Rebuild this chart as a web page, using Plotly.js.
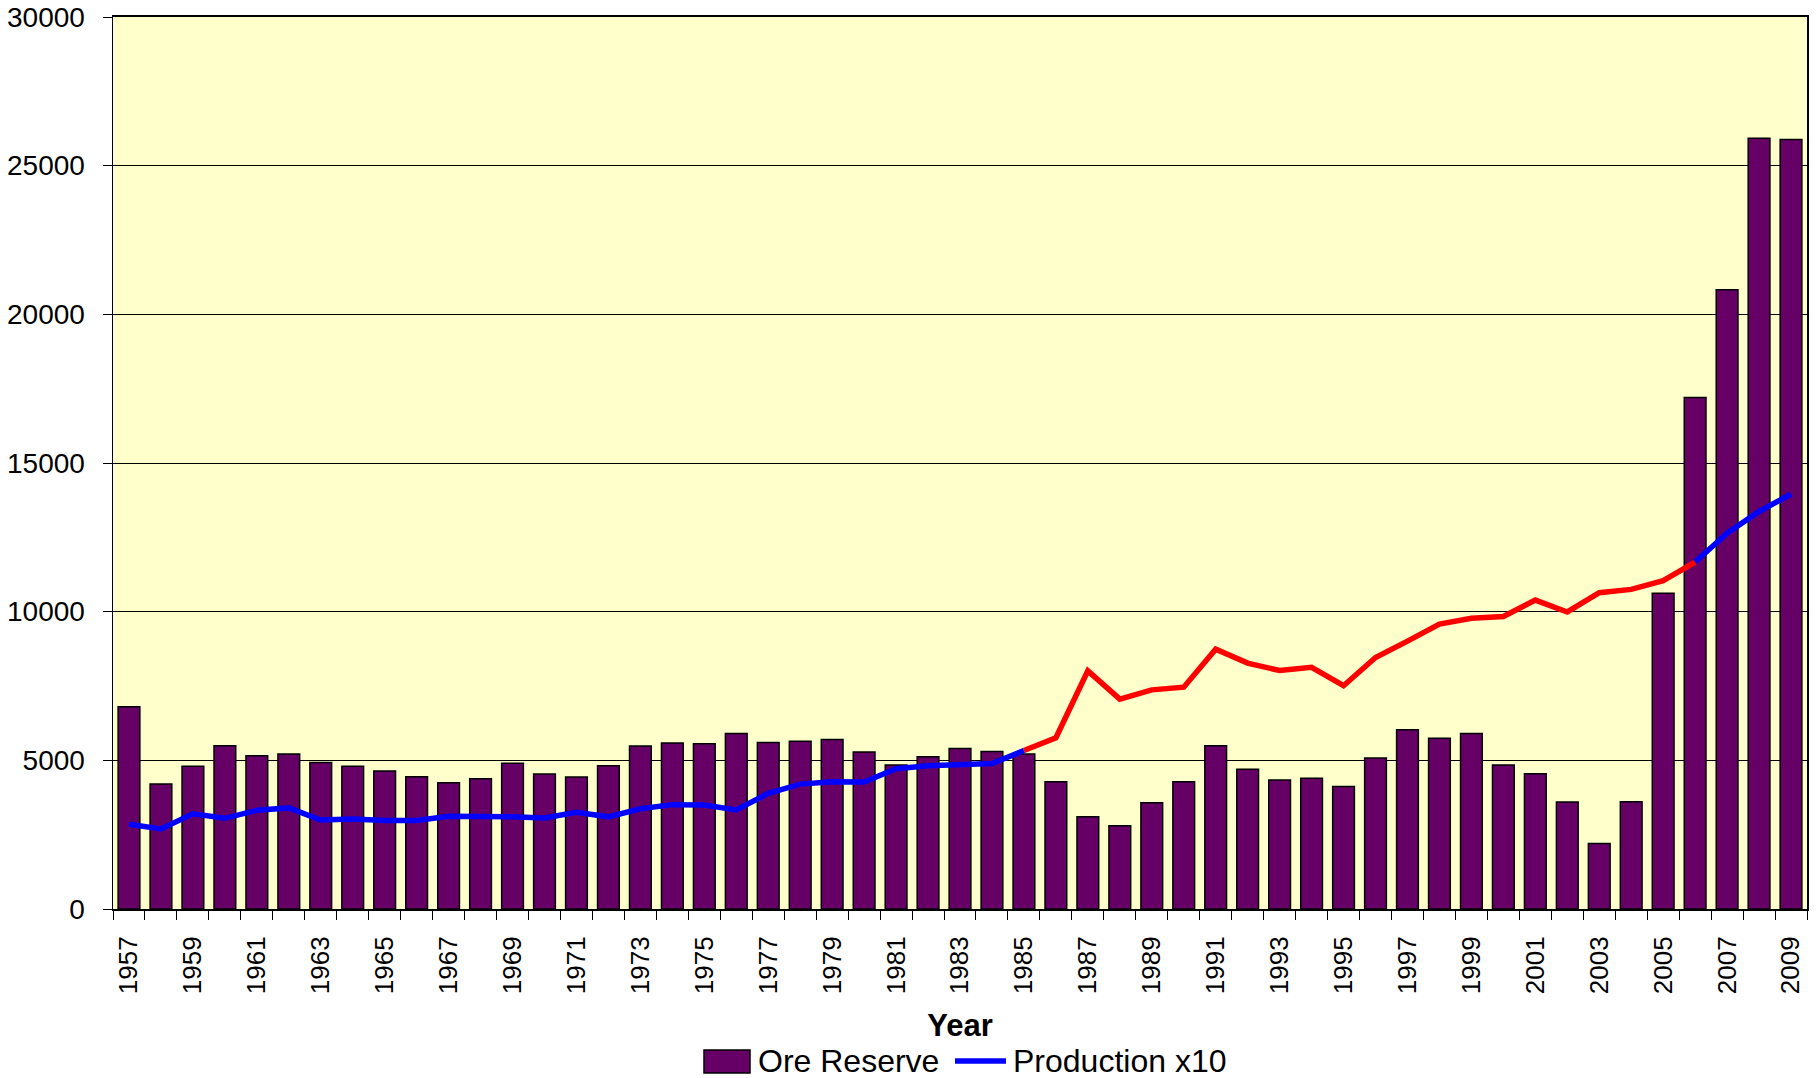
<!DOCTYPE html>
<html>
<head>
<meta charset="utf-8">
<script src="https://cdn.plot.ly/plotly-3.0.1.min.js"></script>
<style>
html,body{margin:0;padding:0;background:#ffffff;}
#chart{width:1818px;height:1078px;}
</style>
</head>
<body>
<div id="chart"></div>
<script>
// ---- data ----
const years = [1957,1958,1959,1960,1961,1962,1963,1964,1965,1966,1967,1968,1969,1970,
  1971,1972,1973,1974,1975,1976,1977,1978,1979,1980,1981,1982,1983,1984,1985,1986,
  1987,1988,1989,1990,1991,1992,1993,1994,1995,1996,1997,1998,1999,2000,2001,2002,
  2003,2004,2005,2006,2007,2008,2009];

const oreReserve = [6800,4200,4800,5490,5150,5210,4930,4800,4640,4450,4250,4380,4900,4540,
  4440,4820,5480,5580,5560,5900,5600,5640,5700,5280,4840,5120,5400,5300,5210,4280,
  3100,2800,3570,4280,5490,4700,4340,4400,4120,5080,6030,5740,5900,4840,4550,3600,
  2200,3610,10620,17200,20830,25920,25880];

const productionX10 = [2850,2690,3200,3050,3320,3400,2990,3030,2980,2980,3120,3130,3100,3060,
  3250,3100,3370,3510,3500,3330,3890,4200,4280,4270,4720,4820,4870,4890,5330,5760,
  8010,7060,7370,7460,8740,8270,8020,8130,7510,8460,9010,9580,9780,9840,10390,9990,
  10640,10750,11040,11670,12640,13370,13950];

// years over which the production line is drawn in red
const redSegment = [1985, 2006];

const xTickYears = years.filter(y => y % 2 === 1);
const yTicks = [0,5000,10000,15000,20000,25000,30000];

const seriesNames = ["Ore Reserve", "Production x10"];

// ---- build traces ----
const blueY = productionX10.map((v,i) => (years[i] <= redSegment[0] || years[i] >= redSegment[1]) ? v : null);
const redX = [], redY = [];
years.forEach((y,i) => { if (y >= redSegment[0] && y <= redSegment[1]) { redX.push(y); redY.push(productionX10[i]); } });

const FONT = '"Liberation Sans", Arial, Helvetica, sans-serif';

const traces = [
  {
    type: 'bar', x: years, y: oreReserve, name: seriesNames[0],
    marker: {color: '#660066', line: {color: '#000000', width: 1.5}},
    showlegend: false, hoverinfo: 'x+y'
  },
  {
    type: 'scatter', mode: 'lines', x: redX, y: redY, name: seriesNames[1] + ' (est.)',
    line: {color: '#ff0000', width: 5.5}, showlegend: false
  },
  {
    type: 'scatter', mode: 'lines', x: years, y: blueY, name: seriesNames[1],
    line: {color: '#0000ff', width: 5.5}, connectgaps: false, showlegend: false
  }
];

// ---- layout geometry (pixels) ----
const W = 1818, H = 1078;
const L = 113, R = 11, T = 17, B = 169;
const plotW = W - L - R, plotH = H - T - B;
const px = x => (x - L) / plotW;
const py = y => (H - B - y) / plotH;

const legY = 1061;
const shapes = [
  {type:'rect', xref:'paper', yref:'paper', x0:px(704), x1:px(750), y0:py(1050), y1:py(1073),
   fillcolor:'#660066', line:{color:'#000000', width:1.5}},
  {type:'line', xref:'paper', yref:'paper', x0:px(955), x1:px(1006), y0:py(legY), y1:py(legY),
   line:{color:'#0000ff', width:5.5}}
];
const annotations = [
  {xref:'paper', yref:'paper', x:px(756), y:py(legY), xanchor:'left', yanchor:'middle',
   text: seriesNames[0], showarrow:false, font:{family:FONT, size:32, color:'#000'}},
  {xref:'paper', yref:'paper', x:px(1011), y:py(legY), xanchor:'left', yanchor:'middle',
   text: seriesNames[1], showarrow:false, font:{family:FONT, size:32, color:'#000'}}
];

const layout = {
  width: W, height: H,
  margin: {l: L, r: R, t: T, b: B, pad: 0},
  paper_bgcolor: '#ffffff',
  plot_bgcolor: '#ffffcc',
  bargap: 0.32,
  showlegend: false,
  font: {family: FONT, size: 27, color: '#000000'},
  xaxis: {
    type: 'linear',
    range: [years[0] - 0.5, years[years.length-1] + 0.5],
    tickmode: 'array', tickvals: xTickYears, ticktext: xTickYears.map(String),
    tickangle: -90, ticks: '', ticklabelstandoff: 15,
    tickfont: {family: FONT, size: 26},
    minor: {ticks: 'outside', tickmode: 'linear', tick0: years[0] - 0.5, dtick: 1,
            ticklen: 9, tickcolor: '#000', tickwidth: 1, showgrid: false},
    showgrid: false, zeroline: false,
    showline: true, linecolor: '#000000', linewidth: 2, mirror: true,
    title: {text: '<b>Year</b>', font: {family: FONT, size: 31}, standoff: 21}
  },
  yaxis: {
    range: [0, 30000],
    tickmode: 'array', tickvals: yTicks, tickformat: 'd',
    ticks: 'outside', ticklen: 9, tickcolor: '#000', tickwidth: 1,
    ticklabelstandoff: 12,
    tickfont: {family: FONT, size: 28},
    showgrid: true, gridcolor: '#000000', gridwidth: 1,
    zeroline: false,
    showline: true, linecolor: '#000000', linewidth: 1.5, mirror: true
  },
  shapes: shapes,
  annotations: annotations
};

Plotly.newPlot('chart', traces, layout, {displayModeBar: false, staticPlot: true});
</script>
</body>
</html>
